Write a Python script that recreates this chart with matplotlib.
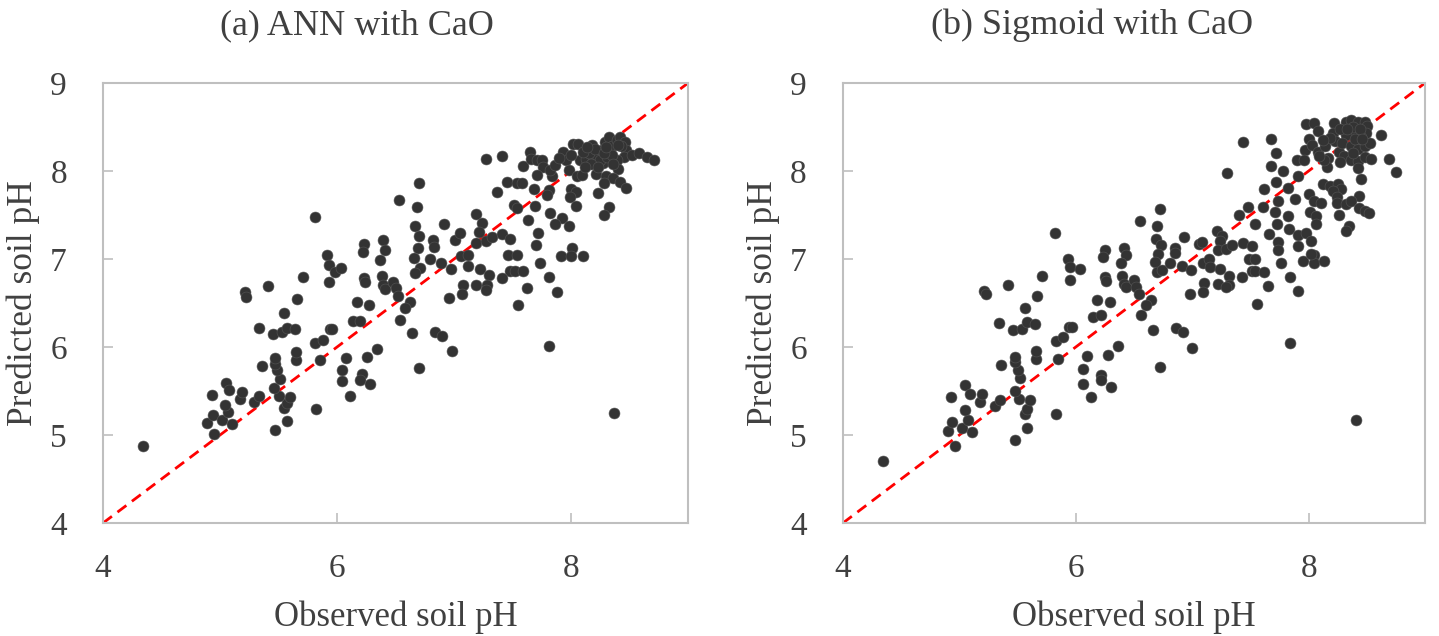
import numpy as np
from matplotlib import pyplot as plt

# (observed, predicted) soil pH
ann_points = [
    (4.34, 4.87), (4.95, 5.01), (4.89, 5.14), (4.94, 5.23), (5.02, 5.17), (5.10, 5.13),
    (5.07, 5.26), (5.04, 5.34), (4.93, 5.46), (5.05, 5.59), (5.08, 5.51), (5.17, 5.41),
    (5.19, 5.49), (5.29, 5.38), (5.33, 5.44), (5.36, 5.78), (5.47, 5.06), (5.57, 5.16),
    (5.55, 5.31), (5.57, 5.36), (5.60, 5.43), (5.50, 5.44), (5.46, 5.53), (5.51, 5.64),
    (5.49, 5.74), (5.47, 5.81), (5.47, 5.88), (5.65, 5.85), (5.65, 5.94), (5.82, 5.30),
    (5.33, 6.22), (5.45, 6.15), (5.53, 6.17), (5.57, 6.22), (5.64, 6.20), (5.55, 6.39),
    (5.66, 6.54), (5.21, 6.62), (5.22, 6.57), (5.41, 6.69),
    (5.81, 7.48), (5.71, 6.80), (5.91, 7.05), (5.93, 6.93), (5.98, 6.85), (6.03, 6.90),
    (5.93, 6.74), (6.23, 7.17), (6.22, 7.08), (6.39, 7.22), (6.41, 7.10), (6.37, 6.99),
    (6.23, 6.78), (6.24, 6.74), (6.38, 6.81), (6.39, 6.71), (6.41, 6.66), (6.48, 6.74),
    (6.50, 6.67), (6.52, 6.58), (6.62, 6.51), (6.58, 6.44), (6.54, 6.31), (6.17, 6.51),
    (6.27, 6.48), (6.14, 6.30), (6.20, 6.30), (5.94, 6.21), (5.96, 6.20), (5.81, 6.05),
    (5.88, 6.08), (5.85, 5.85), (6.08, 5.87), (6.04, 5.74), (6.04, 5.61), (6.11, 5.44),
    (6.21, 5.69), (6.20, 5.62), (6.28, 5.58), (6.26, 5.89), (6.34, 5.98), (6.64, 6.16),
    (6.84, 6.17), (6.90, 6.13), (6.98, 5.96), (6.70, 5.76), (6.53, 7.67), (6.70, 7.86),
    (6.68, 7.59), (6.67, 7.38), (6.70, 7.26), (6.69, 7.12), (6.66, 7.01), (6.71, 6.90),
    (6.67, 6.84), (6.79, 7.00), (6.82, 7.22), (6.83, 7.14), (6.91, 7.40), (6.89, 6.95),
    (6.97, 6.89), (7.01, 7.22), (7.05, 7.30), (7.06, 7.03), (7.12, 7.05), (7.12, 6.92),
    (7.08, 6.71), (7.07, 6.60), (6.96, 6.56), (7.19, 7.51), (7.24, 7.41), (7.21, 7.31),
    (7.19, 7.18), (7.27, 7.20), (7.32, 7.25), (7.22, 6.89), (7.19, 6.71), (7.30, 6.82),
    (7.28, 6.71), (7.27, 6.65), (7.41, 7.28), (7.48, 7.23), (7.46, 7.04), (7.54, 7.04),
    (7.48, 6.86), (7.52, 6.86), (7.41, 6.78), (7.37, 7.76), (7.45, 7.88), (7.51, 7.61),
    (7.54, 7.86), (7.54, 7.58), (7.55, 6.48),
    (7.27, 8.14), (7.41, 8.17), (7.59, 8.06), (7.65, 8.22), (7.66, 8.14), (7.71, 8.12),
    (7.75, 8.12), (7.76, 8.05), (7.71, 7.95), (7.84, 7.94), (7.82, 8.01), (7.86, 8.07),
    (7.93, 8.22), (7.96, 8.13), (8.02, 8.31), (8.06, 8.31), (7.98, 8.01), (8.05, 7.94),
    (8.09, 7.96), (8.08, 8.13), (8.13, 8.14), (8.18, 8.30), (8.19, 8.11), (8.21, 7.97),
    (8.22, 8.18), (8.26, 8.24), (8.29, 8.33), (8.32, 8.39), (8.35, 8.28), (8.39, 8.35),
    (8.42, 8.39), (8.46, 8.33), (8.47, 8.24), (8.45, 8.16), (8.39, 8.13), (8.33, 8.11),
    (8.27, 8.09), (8.25, 8.13), (8.31, 8.16), (8.35, 8.18), (8.52, 8.18), (8.58, 8.21),
    (8.65, 8.16), (8.71, 8.13), (8.40, 8.02), (8.30, 7.94), (8.36, 7.92), (8.42, 7.88),
    (8.47, 7.81), (8.28, 7.86), (8.23, 7.75), (8.32, 7.59), (8.28, 7.50), (8.00, 7.80),
    (8.04, 7.76), (7.99, 7.71), (8.04, 7.60), (7.92, 7.47), (7.98, 7.37), (7.86, 7.40),
    (7.82, 7.52), (7.81, 7.78), (7.79, 7.73), (7.69, 7.60), (7.68, 7.80), (7.58, 7.86),
    (7.63, 7.44), (7.72, 7.29), (7.70, 7.16), (7.73, 6.96), (7.91, 7.03), (8.01, 7.12),
    (8.00, 7.03), (8.10, 7.03), (7.81, 6.79), (7.59, 6.86),
    (8.15, 8.20), (8.20, 8.25), (8.10, 8.22), (8.28, 8.20), (8.43, 8.28), (8.17, 8.08),
    (8.23, 8.05), (8.12, 8.05), (8.40, 8.30), (8.30, 8.27), (8.36, 8.08), (7.90, 8.15),
    (8.00, 8.18), (8.14, 8.27),
    (7.81, 6.01), (8.37, 5.25), (7.62, 6.67), (7.88, 6.62),
]

sig_points = [
    (4.34, 4.71), (4.96, 4.88), (4.90, 5.05), (4.94, 5.15), (5.02, 5.08), (5.11, 5.03),
    (5.07, 5.17), (5.05, 5.28), (4.93, 5.43), (5.05, 5.57), (5.09, 5.47), (5.18, 5.37),
    (5.19, 5.47), (5.31, 5.33), (5.35, 5.40), (5.36, 5.80), (5.48, 4.94), (5.58, 5.08),
    (5.56, 5.24), (5.58, 5.29), (5.61, 5.40), (5.51, 5.41), (5.48, 5.50), (5.52, 5.65),
    (5.50, 5.74), (5.48, 5.83), (5.48, 5.89), (5.66, 5.86), (5.66, 5.96), (5.83, 5.24),
    (5.34, 6.27), (5.46, 6.19), (5.54, 6.21), (5.58, 6.28), (5.65, 6.26), (5.56, 6.44),
    (5.67, 6.58), (5.21, 6.64), (5.23, 6.60), (5.42, 6.70),
    (7.30, 7.98), (5.82, 7.30), (5.71, 6.81), (5.93, 7.00), (5.95, 6.91), (6.04, 6.89),
    (5.95, 6.76), (6.25, 7.10), (6.23, 7.02), (6.41, 7.13), (6.43, 7.04), (6.39, 6.95),
    (6.25, 6.80), (6.26, 6.75), (6.40, 6.81), (6.41, 6.72), (6.43, 6.68), (6.50, 6.76),
    (6.52, 6.68), (6.54, 6.60), (6.65, 6.53), (6.60, 6.48), (6.56, 6.36), (6.18, 6.53),
    (6.29, 6.51), (6.15, 6.34), (6.22, 6.36), (5.94, 6.23), (5.97, 6.23), (5.83, 6.07),
    (5.89, 6.11), (5.85, 5.86), (6.10, 5.90), (6.06, 5.75), (6.06, 5.58), (6.13, 5.43),
    (6.22, 5.68), (6.22, 5.62), (6.30, 5.55), (6.28, 5.91), (6.36, 6.01), (6.66, 6.19),
    (6.86, 6.22), (6.92, 6.17), (7.00, 5.99), (6.72, 5.77), (6.55, 7.43), (6.72, 7.57),
    (6.70, 7.38), (6.69, 7.23), (6.73, 7.16), (6.71, 7.06), (6.68, 6.97), (6.70, 6.85),
    (6.74, 6.87), (6.81, 6.96), (6.85, 7.13), (6.85, 7.07), (6.93, 7.25), (6.91, 6.92),
    (6.99, 6.88), (7.06, 7.17), (7.08, 7.19), (7.09, 6.96), (7.14, 7.00), (7.15, 6.91),
    (7.10, 6.73), (7.09, 6.63), (6.98, 6.60), (7.21, 7.32), (7.26, 7.26), (7.24, 7.20),
    (7.22, 7.10), (7.29, 7.11), (7.34, 7.16), (7.24, 6.89), (7.22, 6.72), (7.32, 6.81),
    (7.32, 6.71), (7.29, 6.68), (7.44, 7.18), (7.51, 7.15), (7.49, 7.00), (7.54, 7.00),
    (7.51, 6.86), (7.54, 6.86), (7.43, 6.80), (7.40, 7.50), (7.48, 7.59), (7.54, 7.40),
    (7.56, 6.49),
    (7.44, 8.33), (7.68, 8.36), (7.72, 8.21), (7.68, 8.06), (7.78, 8.00), (7.62, 7.79),
    (7.72, 7.87), (7.74, 7.66), (7.82, 7.81), (7.91, 7.94), (7.88, 7.68), (7.61, 7.59),
    (7.71, 7.53), (7.82, 7.49), (7.73, 7.40), (7.66, 7.28), (7.83, 7.34), (7.91, 7.27),
    (7.98, 7.30), (8.02, 7.21), (7.91, 7.15), (7.74, 7.19), (7.74, 7.10), (7.76, 6.95),
    (7.95, 6.98), (8.05, 7.04), (8.05, 6.96), (8.13, 6.98), (7.84, 6.80), (7.62, 6.85),
    (7.98, 8.53), (8.05, 8.54), (8.08, 8.45), (8.00, 8.36), (7.97, 8.24), (8.03, 8.30),
    (8.08, 8.22), (8.14, 8.28), (8.17, 8.15), (8.22, 8.54), (8.21, 8.43), (8.23, 8.34),
    (8.26, 8.22), (8.32, 8.56), (8.36, 8.58), (8.42, 8.56), (8.48, 8.56), (8.50, 8.51),
    (8.49, 8.43), (8.45, 8.39), (8.39, 8.43), (8.32, 8.41), (8.29, 8.32), (8.36, 8.28),
    (8.42, 8.25), (8.48, 8.28), (8.53, 8.32), (8.62, 8.41), (8.30, 8.17), (8.36, 8.13),
    (8.42, 8.11), (8.48, 8.16), (8.54, 8.14), (8.69, 8.14), (8.75, 7.99), (8.42, 8.03),
    (8.45, 7.91), (8.12, 7.85), (8.18, 7.83), (8.25, 7.85), (8.28, 7.79), (8.21, 7.77),
    (8.24, 7.70), (8.24, 7.64), (8.16, 8.04), (8.13, 8.13), (8.43, 7.72), (8.32, 7.63),
    (8.36, 7.66), (8.43, 7.58), (8.48, 7.55), (8.52, 7.52), (8.00, 7.74), (8.05, 7.66),
    (8.11, 7.64), (8.01, 7.53), (8.06, 7.49), (8.06, 7.40), (8.26, 7.50), (8.35, 7.38),
    (8.32, 7.32), (8.02, 7.06), (7.90, 8.13), (7.96, 8.13), (8.09, 8.17),
    (8.38, 8.50), (8.44, 8.48), (8.27, 8.48), (8.33, 8.48), (8.40, 8.36), (8.46, 8.36),
    (8.18, 8.38), (8.12, 8.35), (8.38, 8.20), (8.27, 8.10),
    (7.84, 6.04), (8.41, 5.17), (7.65, 6.69), (7.91, 6.64),
]

titles = ['(a) ANN with CaO', '(b) Sigmoid with CaO']
x_ticks = [4, 6, 8]
y_ticks = [4, 5, 6, 7, 8, 9]

plt.rcParams['font.family'] = ['Liberation Serif', 'DejaVu Serif']
cor_texto = '#404040'
cor_borda = '#bfbfbf'

fig = plt.figure(figsize=(14.39, 6.36), dpi=100)
posicoes = [[0.0716, 0.1777, 0.4066, 0.6918], [0.5858, 0.1777, 0.4045, 0.6918]]
centros_titulo = [0.248, 0.759]

for pos, titulo, cx, pontos in zip(posicoes, titles, centros_titulo, [ann_points, sig_points]):
    ax = fig.add_axes(pos)
    dados = np.array(pontos)
    ax.plot([4, 9], [4, 9], color='#ff0000', linestyle=(0, (4, 2.5)), linewidth=2, zorder=1)
    ax.scatter(dados[:, 0], dados[:, 1], s=62, color='#333333', edgecolors='#555555',
               linewidths=0.4, zorder=2)
    ax.set_xlim(4, 9)
    ax.set_ylim(4, 9)
    ax.set_xticks(x_ticks)
    ax.set_yticks(y_ticks)
    ax.tick_params(direction='in', length=7, width=1.2, color=cor_borda,
                   labelsize=24, labelcolor=cor_texto)
    ax.tick_params(axis='x', pad=22)
    ax.tick_params(axis='y', pad=26)
    for lado in ax.spines.values():
        lado.set_color(cor_borda)
        lado.set_linewidth(1.5)
    ax.set_xlabel('Observed soil pH', fontsize=25, color=cor_texto, labelpad=12)
    ax.set_ylabel('Predicted soil pH', fontsize=25.5, color=cor_texto, labelpad=7)
    fig.text(cx, 0.960, titulo, fontsize=26, color=cor_texto, ha='center', va='center')

plt.savefig('out.png', dpi=100)
